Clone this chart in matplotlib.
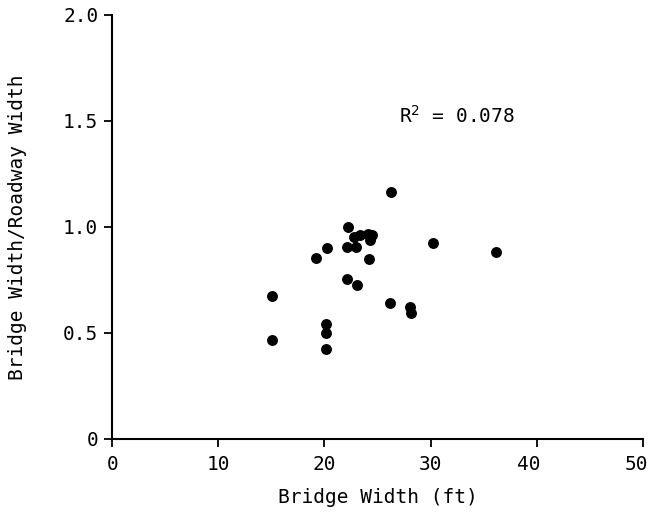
import matplotlib
matplotlib.use("Agg")
import matplotlib.pyplot as plt
from matplotlib.transforms import ScaledTranslation

bridge_width = [26.3, 22.25, 22.8, 23.35, 24.1, 24.5, 24.3, 22.1, 23.0, 24.2,
                20.2, 19.2, 30.2, 36.2, 22.1, 23.1, 26.2, 28.1, 28.2,
                15.1, 15.1, 20.15, 20.15, 20.15]
width_ratio = [1.166, 0.999, 0.954, 0.962, 0.967, 0.962, 0.939, 0.904, 0.904, 0.848,
               0.90, 0.852, 0.923, 0.883, 0.753, 0.728, 0.642, 0.624, 0.594,
               0.676, 0.466, 0.541, 0.499, 0.426]

x_ticks = [0, 10, 20, 30, 40, 50]
y_ticks = [0, 0.5, 1.0, 1.5, 2.0]
y_tick_labels = ["0", "0.5", "1.0", "1.5", "2.0"]
r2_text = "R$^{2}$ = 0.078"

plt.rcParams['font.family'] = ['DejaVu Sans Mono']
plt.rcParams['mathtext.fontset'] = 'dejavusans'

fs = 14
fig = plt.figure(figsize=(6.52, 5.15), dpi=100)
ax = fig.add_axes([0.172, 0.148, 0.814, 0.823])
ax.scatter(bridge_width, width_ratio, s=62, color='black', zorder=3, linewidths=0)
ax.set_xlim(0, 50)
ax.set_ylim(0, 2.0)
ax.set_xticks(x_ticks)
ax.set_yticks(y_ticks)
ax.set_yticklabels(y_tick_labels)
for s in ['top', 'right']:
    ax.spines[s].set_visible(False)
for s in ['left', 'bottom']:
    ax.spines[s].set_linewidth(1.5)
ax.tick_params(direction='out', length=6, width=1.3, labelsize=fs)
ax.tick_params(axis='y', pad=4)
ax.tick_params(axis='x', pad=6)
ax.set_xlabel("Bridge Width (ft)", fontsize=fs, labelpad=10)
ax.set_ylabel("Bridge Width/Roadway Width", fontsize=fs, labelpad=26)
ax.text(27.0, 1.49, r2_text, fontsize=fs, ha='left', va='baseline')

# shift the last two x tick labels slightly left, as in the reference
fig.canvas.draw()
labels = ax.get_xticklabels()
for lab, dx in zip(labels[-2:], [-8, -6]):
    lab.set_transform(lab.get_transform() + ScaledTranslation(dx / 100, 0, fig.dpi_scale_trans))

fig.savefig("out.png", dpi=100)
